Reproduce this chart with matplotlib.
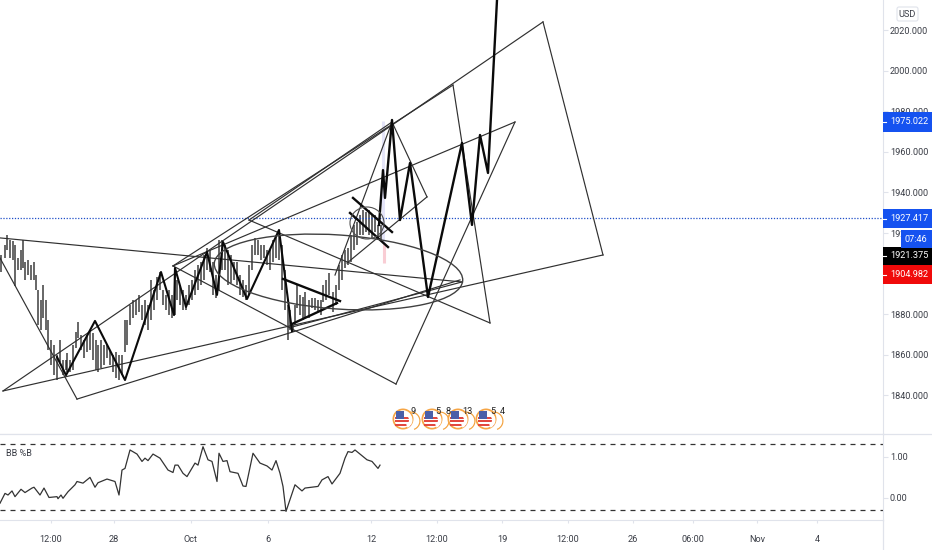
import matplotlib
matplotlib.use("Agg")
import matplotlib.pyplot as plt
from matplotlib.patches import Ellipse, Circle, Rectangle, FancyBboxPatch, Wedge

plt.rcParams['font.family'] = ['Roboto', 'DejaVu Sans']

# ---- data -------------------------------------------------------------
bar_x = [1,5,7,10,13,15,18,21,23,25,28,31,34,36,38,41,43,46,48,51,54,57,60,63,66,67,70,73,76,78,
         81,84,87,90,93,96,98,101,104,107,110,113,116,119,122,125,127,130,133,136,139,142,145,148,
         151,154,157,160,163,166,169,172,175,177,180,183,186,189,192,195,198,201,204,207,210,213,
         216,219,222,225,228,231,234,237,240,243,246,249,252,255,258,261,264,267,270,273,276,279,
         282,285,288,290,293,295,297,300,303,305,309,312,315,318,321,323,326,329,333,336,339,342,
         345,348,351,354,357,360,363,366,369,372,375,378,381]
bar_high = [1909.2,1914.1,1919,1916.6,1916.1,1914.1,1907.7,1911.6,1916.6,1905.7,1906.7,1904.3,1905.7,1899.3,1892,
            1887,1894.4,1887,1877.2,1867.3,1864.9,1859.9,1867.3,1857.5,1857.5,1860.9,1857.5,1864.9,1871.2,1876.2,
            1869.8,1867.3,1869.8,1872.2,1870.8,1867.3,1864.9,1867.3,1864.9,1864.9,1862.4,1859.9,1861.4,1859.9,1859.9,
            1877.2,1877.2,1884.6,1887,1887,1889.5,1884.6,1887,1884.6,1896.9,1892,1898.4,1900.8,1892,1889.5,
            1892,1889.5,1901.8,1896.9,1894.4,1892,1889.5,1894.4,1896.9,1901.8,1904.3,1905.7,1909.2,1912.6,1911.6,
            1905.7,1899.3,1916.6,1916.6,1914.1,1911.6,1909.2,1905.7,1905.7,1899.3,1896.9,1894.4,1904.3,1914.1,1917.6,
            1916.6,1914.1,1914.1,1911.6,1911.6,1916.6,1919,1920.5,1914.1,1901.8,1884.6,1882.1,1874.7,1884.6,1894.4,
            1889.5,1888.5,1891,1887,1888,1888,1887,1887,1894.4,1896.9,1900.3,1891,1894.4,1904.3,1909.2,
            1911.6,1912.6,1919,1924,1925.4,1928.9,1931.3,1930.4,1931.3,1928.9,1928.9,1924,1924]
bar_low = [1900.8,1907.7,1911.6,1907.7,1906.7,1893.9,1901.8,1901.8,1902.8,1896.9,1899.3,1896.9,1896.9,1892,1874.7,
           1872.2,1878.1,1872.2,1862.4,1855,1850.1,1847.6,1856.5,1850.1,1852.5,1851.5,1851.5,1852.5,1863.4,1868.3,
           1862.4,1858.4,1861.4,1862.4,1857.5,1852.5,1851.5,1853.5,1855,1858.4,1855,1851.5,1848.6,1847.6,1850.1,
           1861.4,1864.9,1874.7,1878.1,1879.6,1881.1,1877.2,1874.7,1872.2,1877.2,1882.1,1887,1892,1884.6,1882.1,
           1879.6,1878.1,1879.6,1887,1884.6,1882.1,1882.1,1884.6,1887,1889.5,1892,1894.4,1896.9,1901.8,1900.8,
           1889.5,1888,1892,1901.8,1901.8,1894.4,1895.4,1896.9,1894.4,1889.5,1888.5,1887,1889.5,1901.8,1909.2,
           1909.2,1906.7,1907.7,1904.3,1901.8,1905.7,1907.7,1906.7,1892,1882.1,1867.3,1872.2,1871.2,1874.7,1883.1,
           1879.6,1877.2,1878.6,1878.1,1883.1,1882.1,1881.1,1879.6,1886,1887,1889.5,1881.1,1884.6,1892,1896.9,
           1902.8,1904.3,1905.7,1911.6,1914.1,1919,1919,1920.5,1919,1917.6,1920.5,1916.6,1916.6]

# thin trend lines: x-pair, price-pair
thin_x = [(3,603),(3,543),(543,603),(0,462),(0,77),(77,460),(173,396),(396,515),(173,515),(173,453),
          (453,490),(249,490),(249,392),(392,427),(427,347),(392,335),(292,462)]
thin_p = [(1842.2,1909.2),(1842.2,2024.0),(2024.0,1909.2),(1917.6,1895.9),(1907.7,1838.2),(1838.2,1896.9),
          (1903.8,1845.6),(1845.6,1974.7),(1903.8,1974.7),(1903.8,1992.9),(1992.9,1875.7),(1926.4,1875.7),
          (1926.4,1974.7),(1974.7,1937.8),(1937.8,1905.2),(1974.7,1899.3),(1873.7,1895.9)]

zig1_x = [57,66,95,125,161,174,175,186,207,217,223,247,279,292]
zig1_p = [1858.9,1850,1876.7,1847.6,1900.8,1879.6,1902.8,1883.6,1910.7,1889.5,1915.6,1887.5,1921.5,1871.7]
zig2_x = [379,383,385,392,400,410,428,462,472,480,488,497]
zig2_p = [1924,1951,1937.3,1975.7,1926.4,1954.5,1888.5,1964.4,1924,1968.3,1949.6,2034.8]
seg_x = [(283,340),(292,337),(353,392),(350,388)]
seg_p = [(1897.4,1886.5),(1875.2,1885.5),(1937.3,1920.5),(1929.9,1913.1)]

hline_price = 1927.417
price_ticks = [2020,2000,1980,1960,1940,1920,1880,1860,1840]

osc_x = [0,5,8,12,15,21,25,32,34,40,44,49,57,58,61,63,68,75,77,83,90,95,98,107,115,119,122,125,130,137,
         142,145,148,153,160,168,173,175,178,183,187,195,198,203,208,212,217,219,223,227,230,238,243,246,
         253,260,267,272,276,280,283,286,295,302,305,318,322,328,332,340,345,348,352,355,360,367,372,378,380]
osc_v = [-.13,.11,.07,.17,.03,.21,.13,.24,.26,.07,.24,.01,.03,-.02,.07,-.01,.15,.32,.40,.36,.50,.26,.37,.46,.40,
         .07,.68,.72,1.17,1.07,.89,.97,.91,1.07,.97,.68,.62,.80,.80,.60,.52,.85,.80,1.25,.93,.89,.40,1.09,.89,.91,
         .64,.60,.29,.28,1.09,.85,.78,.68,.91,.60,.28,-.33,.32,.17,.24,.28,.44,.52,.34,.60,.97,1.13,1.11,1.17,1.07,
         .93,.89,.72,.80]
osc_levels = [1.32,-0.29]
osc_ticks = [1.0,0.0]

time_pos = [51,114,191,268,371,437,502,568,633,693,757,817]
time_lab = ['12:00','28','Oct','6','12','12:00','19','12:00','26','06:00','Nov','4']

tags = [('1975.022',112,132,'#1552f0'),('1927.417',209,228,'#1552f0'),
        ('1921.375',247,265,'#000000'),('1904.982',265,284,'#f00a0a')]
event_labels = [(413,411,'9'),(438,412,'5'),(448,412,'8'),(467,412,'13'),(493,412,'5'),(502,412,'4')]
flag_centres = [(403,419),(432,419),(458,419),(486,419)]

# ---- figure -----------------------------------------------------------
W, H = 932, 550
AX_R, MAIN_B, SUB_B = 883, 434, 520
FS = 6.6
fig = plt.figure(figsize=(W/100, H/100), dpi=100, facecolor='white')
ax = fig.add_axes([0, 1-MAIN_B/H, AX_R/W, MAIN_B/H])
sub = fig.add_axes([0, 1-SUB_B/H, AX_R/W, (SUB_B-MAIN_B)/H])
over = fig.add_axes([0, 0, 1, 1], zorder=10)
over.set_xlim(0, W); over.set_ylim(H, 0); over.axis('off'); over.patch.set_alpha(0)

GRID = '#e0e3eb'
TXT = '#3a3d46'
for a in (ax, sub):
    a.set_xlim(0, AX_R)
    a.yaxis.tick_right()
    for s in ('left','top'):
        a.spines[s].set_visible(False)
    for s in ('right','bottom'):
        a.spines[s].set_color(GRID)
    a.tick_params(axis='y', length=3.5, color=GRID, labelsize=FS, labelcolor=TXT, pad=1.5)

# main panel
ax.set_ylim(1821.0, 2034.8)
ax.set_xticks([])
ax.set_yticks(price_ticks)
ax.set_yticklabels([f'{t:.3f}' for t in price_ticks])

ax.vlines([383], 1915, 1975, color='#e4e4f8', lw=2.2, zorder=1)
ax.vlines([384], 1905, 1915, color='#f9cdd4', lw=2.2, zorder=1)
ax.vlines(bar_x, bar_low, bar_high, color='#111111', lw=1.25, alpha=0.72, zorder=2)
ax.axhline(hline_price, color='#1f4fc8', lw=0.9, ls=(0, (1, 1.3)), zorder=3)
for xs, ps in zip(thin_x, thin_p):
    ax.plot(xs, ps, color='#303030', lw=0.85, zorder=4)
ax.plot(zig1_x, zig1_p, color='#0a0a0a', lw=1.5, zorder=5)
ax.plot(zig2_x, zig2_p, color='#0a0a0a', lw=1.7, zorder=5)
for xs, ps in zip(seg_x, seg_p):
    ax.plot(xs, ps, color='#0a0a0a', lw=1.7, zorder=5)

# oscillator panel
sub.set_ylim(-0.54, 1.56)
sub.plot(osc_x, osc_v, color='#333333', lw=0.9)
for v in osc_levels:
    sub.axhline(v, color='#333333', lw=0.9, ls=(0, (4, 4)))
sub.set_yticks(osc_ticks)
sub.set_yticklabels([f'{t:.2f}' for t in osc_ticks])
sub.set_xticks(time_pos)
sub.set_xticklabels(time_lab)
sub.tick_params(axis='x', length=2.5, color=GRID, labelsize=FS, labelcolor=TXT, pad=8)
sub.text(6, 1.08, 'BB %B', fontsize=FS, color=TXT, va='center')

# overlays: ellipses, chrome, tags, event icons
over.add_patch(Ellipse((338.5, 272), 249, 74, angle=4, fill=False, ec='#404040', lw=1.0))
over.add_patch(Ellipse((367, 223), 34, 32, fill=False, ec='#505050', lw=0.8))
over.plot([0, W], [434, 434], color=GRID, lw=0.9)
over.plot([AX_R, AX_R], [520, H], color=GRID, lw=0.9)

for lab, y0, y1, col in tags:
    over.add_patch(Rectangle((AX_R, y0), W-AX_R, y1-y0, fc=col, ec='none', zorder=3))
    over.text(890, (y0+y1)/2, lab, color='white', fontsize=FS, va='center', ha='left', zorder=4)
    over.plot([AX_R, AX_R+3], [(y0+y1)/2]*2, color='white', lw=0.8, zorder=4)
over.add_patch(Rectangle((901, 230), W-901, 18, fc='#1552f0', ec='none', zorder=3))
over.text(916, 239, '07:46', color='white', fontsize=FS, va='center', ha='center', zorder=4)
over.add_patch(FancyBboxPatch((897, 7), 21, 14, boxstyle='round,pad=0,rounding_size=2',
                              fc='white', ec='#e0e3eb', lw=0.8, zorder=3))
over.text(907.5, 14.5, 'USD', color=TXT, fontsize=FS, va='center', ha='center', zorder=4)

for cx, cy in flag_centres:
    over.add_patch(Wedge((cx+8, cy+2), 9.5, -120, 70, width=1.2, fc='#f4a340', ec='none', zorder=3))
    over.add_patch(Circle((cx, cy), 10.5, fc='#f6a545', ec='none', zorder=3))
    over.add_patch(Circle((cx, cy), 8.8, fc='white', ec='none', zorder=4))
    for dy in (-2, 1.4, 4.8):
        over.add_patch(Rectangle((cx-8, cy+dy), 16, 1.8, fc='#e2483f', ec='none', zorder=5))
    over.add_patch(Rectangle((cx-7, cy-8), 8, 8, fc='#4a5fa8', ec='none', zorder=6))
    over.add_patch(Wedge((cx+1, cy+1), 8.5, -55, 65, width=3.5, fc='white', ec='none', zorder=7))
for x, y, s in event_labels:
    over.text(x, y, s, color='#222222', fontsize=FS, ha='center', va='center', zorder=8)

fig.savefig('out.png', dpi=100)
